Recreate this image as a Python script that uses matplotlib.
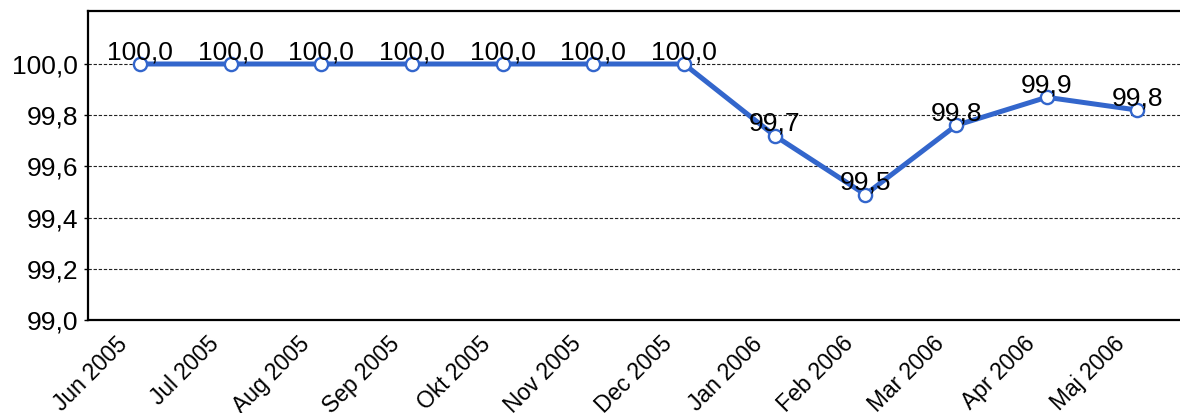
import matplotlib
matplotlib.use("Agg")
import matplotlib.pyplot as plt
from matplotlib.transforms import ScaledTranslation

categories = ["Jun 2005", "Jul 2005", "Aug 2005", "Sep 2005", "Okt 2005", "Nov 2005",
              "Dec 2005", "Jan 2006", "Feb 2006", "Mar 2006", "Apr 2006", "Maj 2006"]
values = [100.0, 100.0, 100.0, 100.0, 100.0, 100.0, 100.0, 99.72, 99.49, 99.76, 99.87, 99.82]
yticks = [99.0, 99.2, 99.4, 99.6, 99.8, 100.0]

plt.rcParams['font.family'] = ['Liberation Sans', 'DejaVu Sans']
FS = 19
FSX = 16.5

fig = plt.figure(figsize=(11.8, 4.13), dpi=100)
ax = fig.add_axes([88/1180, 1 - 320/413, 1 - 88/1180, (320 - 11)/413])

x = list(range(len(categories)))
ax.plot(x, values, color='#3366CC', linewidth=3.6, marker='o', markersize=9.5,
        markerfacecolor='white', markeredgecolor='#3366CC', markeredgewidth=1.7,
        solid_joinstyle='round', zorder=3)

for xi, v in zip(x, values):
    ax.annotate(f"{v:.1f}".replace('.', ','), (xi, v), xytext=(0, 3.5),
                textcoords='offset points', ha='center', va='baseline',
                fontsize=FS, color='black', zorder=4)

ax.set_xlim(-0.573, 11.47)
ax.set_ylim(99.0, 100.207)
ax.set_yticks(yticks)
ax.set_yticklabels([f"{t:.1f}".replace('.', ',') for t in yticks], fontsize=FS)
ax.set_xticks(x)
ax.set_xticklabels(categories, fontsize=FSX, rotation=45, ha='right', va='baseline',
                   rotation_mode='anchor')
ax.tick_params(axis='x', length=0, pad=0)
ax.tick_params(axis='y', length=3, width=1, pad=4)
shift = ScaledTranslation(-11/100, -25/100, fig.dpi_scale_trans)
for lab in ax.get_xticklabels():
    lab.set_transform(lab.get_transform() + shift)

for t in yticks[1:]:
    ax.axhline(t, color='#222222', linewidth=0.8, linestyle=(0, (3, 1.6)), zorder=1)

for s in ['left', 'bottom', 'top']:
    ax.spines[s].set_linewidth(1.6)
    ax.spines[s].set_color('black')
ax.spines['right'].set_visible(False)

fig.savefig("out.png", dpi=100)
